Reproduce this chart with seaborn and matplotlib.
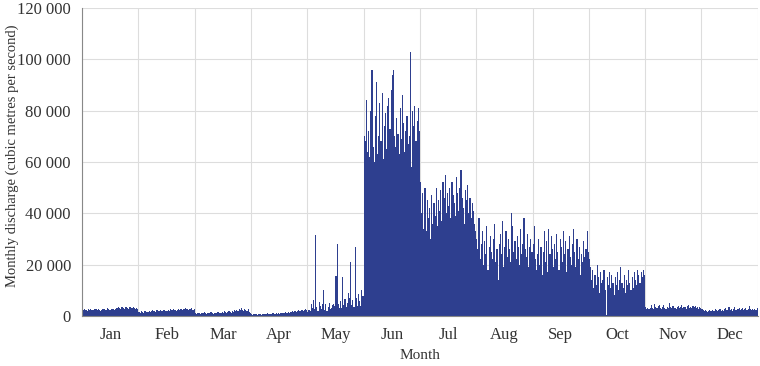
import matplotlib
matplotlib.use("Agg")
import matplotlib.pyplot as plt
from matplotlib.ticker import FixedLocator, FuncFormatter
import seaborn as sns
import pandas as pd

months = ["Jan", "Feb", "Mar", "Apr", "May", "Jun", "Jul", "Aug", "Sep", "Oct", "Nov", "Dec"]

# discharge per year for each month, in thousands of m3/s (one value per year)
jan = [2.4, 2.1, 2.6, 2.3, 2.0, 2.5, 2.2, 2.7, 2.4, 2.1, 2.3, 2.8, 2.5, 2.2, 2.6, 2.4, 2.0, 2.3, 2.7, 2.5,
       2.2, 2.4, 2.9, 2.6, 2.3, 2.1, 2.5, 2.8, 2.4, 2.6, 3.2, 2.9, 3.4, 3.0, 2.7, 3.5, 3.1, 2.8, 3.3, 3.6,
       3.0, 2.8, 3.4, 3.1, 2.9, 3.5, 3.2, 2.7, 3.0, 2.8]
feb = [1.6, 1.3, 1.8, 1.5, 1.2, 1.7, 1.9, 1.4, 1.6, 2.0, 1.5, 1.8, 2.1, 1.7, 1.9, 1.6, 2.2, 1.8, 2.0, 2.3,
       1.9, 1.7, 2.1, 2.4, 2.0, 1.8, 2.2, 1.9, 2.5, 2.1, 2.3, 2.6, 2.2, 2.0, 2.4, 2.7, 2.3, 2.5, 2.8, 2.4,
       2.6, 2.9, 2.5, 2.7, 2.3, 2.8, 2.6, 2.9, 2.4, 2.7]
mar = [1.2, 0.9, 1.1, 1.3, 1.0, 0.8, 1.2, 1.0, 1.4, 1.1, 0.9, 1.3, 1.0, 1.2, 1.5, 1.1, 0.9, 1.3, 1.2, 1.0,
       1.4, 1.6, 1.2, 1.1, 1.5, 1.3, 1.7, 1.4, 1.2, 1.6, 1.8, 1.5, 1.3, 1.9, 1.6, 2.1, 1.8, 2.3, 1.9, 2.6,
       2.2, 3.1, 2.4, 2.0, 2.7, 2.3, 1.8, 2.5, 1.6, 1.2]
apr = [0.7, 0.5, 0.8, 0.6, 0.9, 0.5, 0.7, 0.6, 0.8, 0.5, 0.9, 0.7, 0.6, 0.8, 1.0, 0.7, 0.6, 0.9, 0.8, 1.1,
       0.7, 0.9, 1.0, 0.8, 1.2, 0.9, 1.1, 1.3, 1.0, 1.2, 1.4, 1.1, 1.3, 1.6, 1.2, 1.5, 1.8, 1.4, 1.7, 2.0,
       1.6, 1.9, 2.2, 1.7, 2.1, 2.4, 1.9, 2.3, 2.6, 2.2]
may = [1.5, 2.2, 1.8, 4.5, 3.0, 6.0, 2.5, 31.5, 3.5, 2.0, 5.5, 4.0, 2.8, 4.5, 10.0, 2.4, 4.8, 1.9, 3.6, 5.2,
       2.6, 3.0, 4.2, 4.5, 3.8, 15.5, 28.0, 4.6, 3.1, 5.8, 2.9, 15.0, 4.4, 6.5, 3.3, 5.0, 9.0, 7.0, 21.0, 4.2,
       6.0, 3.5, 27.0, 6.8, 3.9, 8.5, 5.6, 4.0, 10.0, 7.8]
jun = [70, 68, 84, 64, 72, 62, 80, 96, 66, 60, 78, 91, 63, 70, 83, 68, 87, 61, 74, 79,
       65, 82, 85, 73, 88, 94, 96, 70, 66, 77, 71, 63, 81, 69, 86, 75, 64, 72, 78, 67,
       70, 103, 58, 80, 74, 82, 68, 76, 81, 72]
jul = [52, 40, 48, 34, 50, 33, 45, 38, 42, 30, 47, 36, 44, 39, 50, 35, 45, 41, 49, 37,
       52, 46, 55, 40, 48, 43, 50, 38, 52, 47, 44, 39, 54, 48, 41, 50, 57, 46, 42, 36,
       49, 45, 51, 40, 46, 38, 44, 41, 36, 33]
aug = [30, 26, 38, 22, 28, 33, 20, 29, 24, 35, 18, 27, 31, 25, 22, 30, 36, 21, 26, 14,
       28, 32, 24, 37, 19, 27, 33, 23, 30, 26, 21, 40, 35, 25, 29, 22, 31, 27, 20, 34,
       24, 28, 38, 26, 23, 32, 19, 27, 30, 25]
sep = [28, 35, 22, 18, 24, 30, 20, 27, 16, 25, 33, 21, 29, 17, 34, 24, 31, 26, 19, 28,
       22, 32, 25, 18, 30, 27, 21, 33, 24, 29, 17, 26, 31, 23, 20, 28, 34, 25, 19, 30,
       22, 27, 16, 24, 21, 29, 23, 26, 33, 25]
oct_ = [22, 19, 14, 18, 11, 16, 12, 20, 15, 9, 17, 13, 14, 18, 10, 0.5, 15, 12, 17, 11,
        16, 13, 8, 15, 12, 17, 10, 14, 19, 13, 11, 16, 9, 14, 12, 18, 13, 10, 15, 11,
        17, 14, 12, 18, 16, 13, 17, 15, 18, 16]
nov = [3.5, 2.8, 3.2, 2.5, 3.0, 4.2, 3.1, 2.7, 4.5, 3.3, 2.9, 3.8, 4.1, 3.0, 2.6, 3.5, 4.4, 3.2, 2.8, 3.6,
       3.1, 5.2, 3.4, 2.9, 3.7, 4.0, 3.2, 2.7, 3.5, 3.9, 3.1, 3.4, 4.3, 3.0, 3.6, 3.3, 2.8, 3.7, 4.1, 3.2,
       3.5, 2.9, 3.8, 3.4, 4.0, 3.1, 3.6, 2.8, 3.3, 3.0]
dec = [2.5, 2.1, 1.8, 2.2, 1.9, 1.6, 2.0, 2.3, 1.7, 2.4, 2.0, 1.8, 2.6, 2.1, 1.9, 2.3, 2.7, 2.0, 2.2, 1.8,
       2.5, 2.9, 2.1, 2.4, 3.3, 2.2, 2.6, 2.0, 2.8, 3.5, 2.4, 2.1, 2.7, 3.1, 2.3, 2.5, 2.9, 2.2, 2.6, 3.0,
       2.4, 2.8, 3.8, 2.5, 2.3, 2.7, 2.2, 2.6, 2.4, 2.9]

series = [jan, feb, mar, apr, may, jun, jul, aug, sep, oct_, nov, dec]

rows = []
for m, vals in zip(months, series):
    for i, v in enumerate(vals):
        rows.append({"month": m, "year": str(i), "discharge": v * 1000})
df = pd.DataFrame(rows)
years = [str(i) for i in range(len(jan))]

sns.set_style("white")
plt.rcParams["font.family"] = ["Liberation Serif", "DejaVu Serif"]

bar_color = "#2e3f8f"
fig = plt.figure(figsize=(7.6, 3.66), dpi=100)
ax = fig.add_axes([0.108, 0.137, 0.889, 0.841])

sns.barplot(data=df, x="month", y="discharge", hue="year", hue_order=years, order=months,
            palette=[bar_color] * len(years), saturation=1, width=1.0, dodge=True, errorbar=None,
            legend=False, linewidth=0, ax=ax, zorder=2)

ax.set_xlim(-0.5, 11.5)
ax.set_ylim(0, 120000)
ax.set_yticks(range(0, 120001, 20000))
ax.yaxis.set_major_formatter(FuncFormatter(lambda v, p: f"{int(v):,}".replace(",", " ")))

# month boundaries as major ticks (with grid), labels at centres as minor ticks
ax.xaxis.set_major_locator(FixedLocator([i - 0.5 for i in range(13)]))
ax.xaxis.set_minor_locator(FixedLocator(list(range(12))))
ax.set_xticklabels([""] * 13)
ax.set_xticklabels(months, minor=True)
ax.tick_params(axis="x", which="major", length=6, color="#888888", width=0.8)
ax.tick_params(axis="x", which="minor", length=0, pad=8, labelsize=12, colors="#333333")
ax.tick_params(axis="y", length=6, color="#888888", width=0.8, labelsize=12, labelcolor="#333333", pad=2)

ax.grid(True, which="major", color="#dddddd", linewidth=0.8, zorder=0)
ax.set_axisbelow(True)
for s in ["top", "right"]:
    ax.spines[s].set_visible(False)
for s in ["left", "bottom"]:
    ax.spines[s].set_color("#888888")
    ax.spines[s].set_linewidth(0.8)

ax.set_xlabel("Month", fontsize=11, color="#333333", labelpad=4)
ax.set_ylabel("Monthly discharge (cubic metres per second)", fontsize=10.5, color="#333333")
ax.yaxis.set_label_coords(-0.093, 0.52)

fig.savefig("out.png", dpi=100)
